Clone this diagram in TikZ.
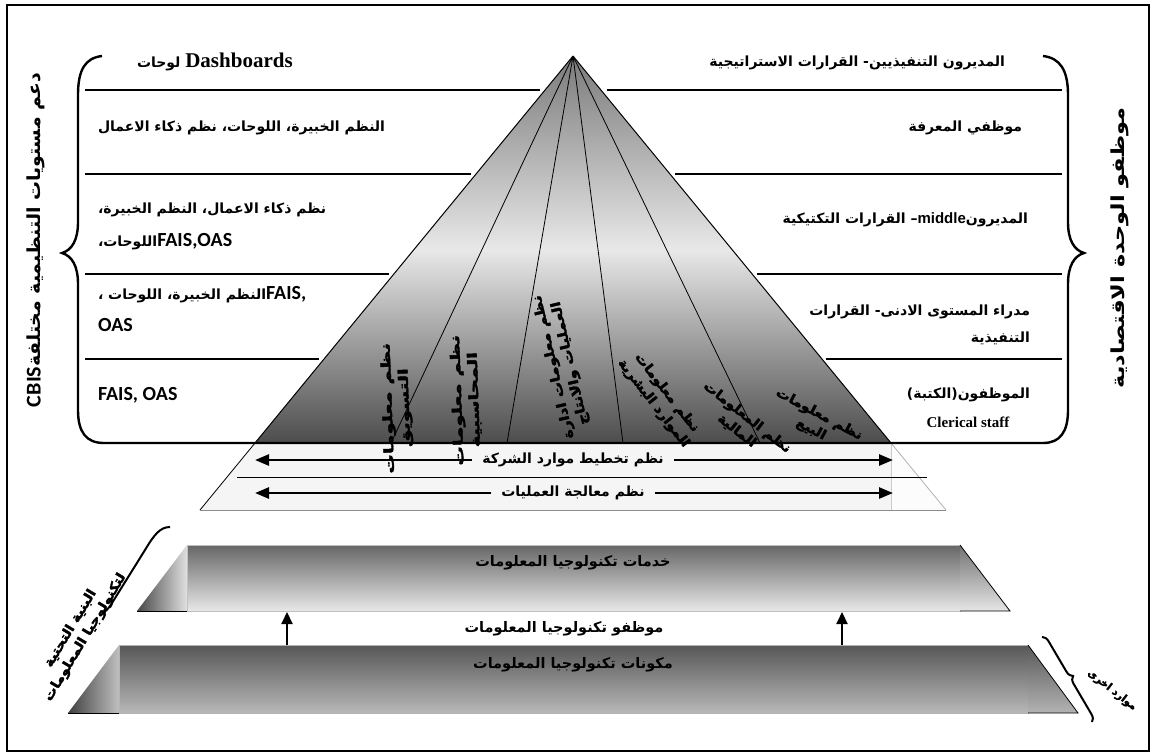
\documentclass[tikz,border=0pt]{standalone}
\usepackage{fontspec}
\usetikzlibrary{arrows.meta,decorations.pathreplacing}
\TeXXeTstate=1
\newfontfamily\arf[Script=Arabic]{DejaVu Sans}
\newfontfamily\warpf[Script=Arabic,FakeBold=2.5]{DejaVu Sans}
\newfontfamily\tmsf{Liberation Serif}
\newfontfamily\calf{Carlito}
\newfontfamily\arlf{Liberation Sans}
\newcommand\RL[1]{\beginR #1\endR}
\newcommand\latf[1]{{\calf\bfseries\fontsize{20}{22}\selectfont #1}}
\begin{document}
\begin{tikzpicture}[x=1pt,y=-1pt,
 every node/.style={inner sep=0pt, outer sep=0pt},
 art/.style={font=\fontsize{14}{16}\selectfont\arf\bfseries},
 big/.style={font=\fontsize{18}{20}\selectfont\arf\bfseries},
 sepline/.style={line width=1.4pt},
 brk/.style={line width=2.4pt},
 edgeline/.style={line width=1pt},
 dblarrow/.style={line width=2.6pt,-{Triangle[length=14pt,width=11pt]}},
 uparrow/.style={line width=2.2pt,-{Triangle[length=12pt,width=11pt]}},
 warp/.style={font=\fontsize{13}{17}\selectfont\warpf\bfseries, align=center, transform shape}
]
\useasboundingbox (0,0) rectangle (1154,753);
\draw[line width=1.5pt] (7,5) rectangle (1149,751);

% ---- pyramid ----
\coordinate (apex) at (573,56);
\coordinate (bl) at (255,443);
\coordinate (br) at (891,443);
\coordinate (bbl) at (200,510);
\coordinate (bbr) at (946,510);
\fill[black!4] (bl) -- (bbl) -- (bbr) -- (br) -- cycle;
\fill[black!1] (br) -- (891,510) -- (bbr) -- cycle;
\shade[top color=black!52, bottom color=black!70, middle color=black!9] (apex) -- (bl) -- (br) -- cycle;
\foreach \x [count=\i] in {391,507,623,760} \coordinate (p\i) at (\x,443);
\draw[edgeline] (apex) -- (bl) (apex) -- (br);
\draw[line width=0.8pt] (apex) -- (p1) (apex) -- (p2) (apex) -- (p3) (apex) -- (p4);
\draw[line width=0.8pt] (bl) -- (bbl);
\draw[black!45,line width=0.8pt] (bbl) -- (bbr);
\draw[black!30,line width=0.8pt] (br) -- (bbr);
\draw[black!20] (br) -- (891,510);
\draw[line width=1pt] (237,477) -- (927,477);

% ---- brackets ----
\draw[brk] (102,56) .. controls (85,58) and (78,70) .. (78,95) -- (78,222)
  .. controls (78,240) and (72,250) .. (62,253) .. controls (72,256) and (78,266) .. (78,284)
  -- (78,410) .. controls (78,432) and (86,443) .. (104,443) -- (1043,443)
  .. controls (1060,443) and (1068,432) .. (1068,410) -- (1068,284)
  .. controls (1068,266) and (1074,256) .. (1084,253) .. controls (1074,250) and (1068,240) .. (1068,222)
  -- (1068,95) .. controls (1068,70) and (1060,58) .. (1043,56);

% ---- separators ----
\draw[sepline] (85,90) -- (540,90) (607,90) -- (1062,90);
\draw[sepline] (85,174) -- (471,174) (675,174) -- (1062,174);
\draw[sepline] (85,274) -- (389,274) (757,274) -- (1062,274);
\draw[sepline] (85,359) -- (319,359) (826,359) -- (1062,359);

% ---- left column ----
\node[art, anchor=west] (l1) at (137,62) {\RL{لوحات} {\fontsize{21}{23}\selectfont\tmsf\bfseries Dashboards}};
\node[art, anchor=west] (l2) at (98,128) {\RL{النظم الخبيرة، اللوحات، نظم ذكاء الاعمال}};
\node[art, anchor=west] (l3a) at (98,210) {\RL{نظم ذكاء الاعمال، النظم الخبيرة،}};
\node[art, anchor=west] (l3b) at (98,242) {\RL{اللوحات،}\latf{FAIS,OAS}};
\node[art, anchor=west] (l4a) at (98,295) {\RL{النظم الخبيرة، اللوحات ،}\latf{FAIS,}};
\node[art, anchor=west] (l4b) at (98,325) {\latf{OAS}};
\node[art, anchor=west] (l5) at (98,395) {\latf{FAIS, OAS}};

% ---- right column ----
\node[art, anchor=east] (r1) at (1005,63) {\RL{المديرون التنفيذيين- القرارات الاستراتيجية}};
\node[art, anchor=east] (r2) at (1022,128) {\RL{موظفي المعرفة}};
\node[art, anchor=east] (r3) at (1028,220) {\RL{القرارات التكتيكية} –{\arlf\bfseries\fontsize{15}{17}\selectfont middle}\RL{المديرون}};
\node[art, anchor=east] (r4a) at (1030,312) {\RL{مدراء المستوى الادنى- القرارات}};
\node[art, anchor=east] (r4b) at (1030,338) {\RL{التنفيذية}};
\node[art, anchor=east] (r5a) at (1030,395) {\RL{الموظفون(الكتبة)}};
\node[font=\fontsize{15}{17}\selectfont\tmsf\bfseries] (r5b) at (968,422) {Clerical staff};

% ---- vertical labels ----
\node[big, rotate=90, xscale=1.05, transform shape] (vl) at (36,240) {{\calf\bfseries\fontsize{21}{23}\selectfont CBIS}\RL{دعم مستويات التنظيمية مختلفة}};
\node[big, rotate=90, xscale=1.25, transform shape] (vr) at (1120,248) {\RL{موظفو الوحدة الاقتصادية}};

% ---- band arrows ----
\node[art, fill=black!4, inner xsep=10pt, inner ysep=2pt] (erp) at (573,460) {\RL{نظم تخطيط موارد الشركة}};
\node[art, fill=black!4, inner xsep=10pt, inner ysep=2pt] (tps) at (573,493) {\RL{نظم معالجة العمليات}};
\coordinate (erpL) at (255,460); \coordinate (erpR) at (893,460);
\coordinate (tpsL) at (255,493); \coordinate (tpsR) at (893,493);
\draw[dblarrow] (erp.west) -- (erpL);
\draw[dblarrow] (erp.east) -- (erpR);
\draw[dblarrow] (tps.west) -- (tpsL);
\draw[dblarrow] (tps.east) -- (tpsR);

% ---- warped labels inside pyramid ----
\node[warp, rotate=92, xscale=1.5] (w1) at (397,408) {\RL{نظم معلومات}\\\RL{التسويق}};
\node[warp, rotate=92, xscale=1.5] (w2) at (466,400) {\RL{نظم معلومات}\\\RL{المحاسبية}};
\node[warp, rotate=103, xscale=1.2] (w3) at (562,365) {\RL{نظم معلومات ادارة}\\\RL{العمليات والانتاج}};
\node[warp, rotate=-52, xscale=1.1] (w4) at (660,398) {\RL{نظم معلومات}\\\RL{الموارد البشرية}};
\node[warp, rotate=-38, xscale=1.1] (w5) at (742,424) {\RL{نظم المعلومات}\\\RL{المالية}};
\node[warp, rotate=-28, xscale=1.1] (w6) at (815,422) {\RL{نظم معلومات}\\\RL{البيع}};

% ---- IT layers ----
\shade[top color=black!60, bottom color=black!9] (187,545) rectangle (960,611);
\draw[black!25] (187,545) rectangle (960,611);
\shade[left color=black!72, right color=black!12] (187,545) -- (137,611) -- (187,611) -- cycle;
\draw[line width=0.8pt] (137,611) -- (187,611);
\shade[top color=black!55, bottom color=black!10] (960,545) -- (1010,611) -- (960,611) -- cycle;
\draw[line width=0.8pt] (960,545) -- (1010,611) -- (960,611);

\shade[top color=black!66, bottom color=black!28] (119,645) rectangle (1028,713);
\draw[black!30] (119,645) rectangle (1028,713);
\shade[left color=black!75, right color=black!25] (119,645) -- (68,713) -- (119,713) -- cycle;
\draw[line width=0.8pt] (68,713) -- (119,713);
\shade[top color=black!65, bottom color=black!30] (1028,645) -- (1078,713) -- (1028,713) -- cycle;
\draw[line width=0.8pt] (1028,645) -- (1078,713) -- (1028,713);

\node[art, font=\fontsize{14.5}{16}\selectfont\arf\bfseries] (svc) at (573,563) {\RL{خدمات تكنولوجيا المعلومات}};
\node[art, font=\fontsize{14.5}{16}\selectfont\arf\bfseries] (itstaff) at (564,629) {\RL{موظفو تكنولوجيا المعلومات}};
\node[art, font=\fontsize{14.5}{16}\selectfont\arf\bfseries] (comp) at (573,665) {\RL{مكونات تكنولوجيا المعلومات}};
\coordinate (a1s) at (287,645); \coordinate (a1e) at (287,612);
\coordinate (a2s) at (842,645); \coordinate (a2e) at (842,612);
\draw[uparrow] (a1s) -- (a1e);
\draw[uparrow] (a2s) -- (a2e);

% ---- infrastructure label ----
\draw[line width=2pt] (170,527) .. controls (160,527) and (154,535) .. (145,550) -- (112,603) .. controls (109,608) and (106,611) .. (103,613);
\node[warp, rotate=59, xscale=1.1] (infra) at (78,633) {\RL{البنية التحتية}\\\RL{لتكنولوجيا المعلومات}};

% ---- bottom-right brace ----
\draw[line width=2pt, decorate, decoration={brace, amplitude=7pt}] (1042,637) -- (1092,722);
\node[warp, rotate=-38, font=\fontsize{10.5}{12}\selectfont\warpf\bfseries] (other) at (1112,690) {\RL{موارد اخرى}};
\end{tikzpicture}
\end{document}
